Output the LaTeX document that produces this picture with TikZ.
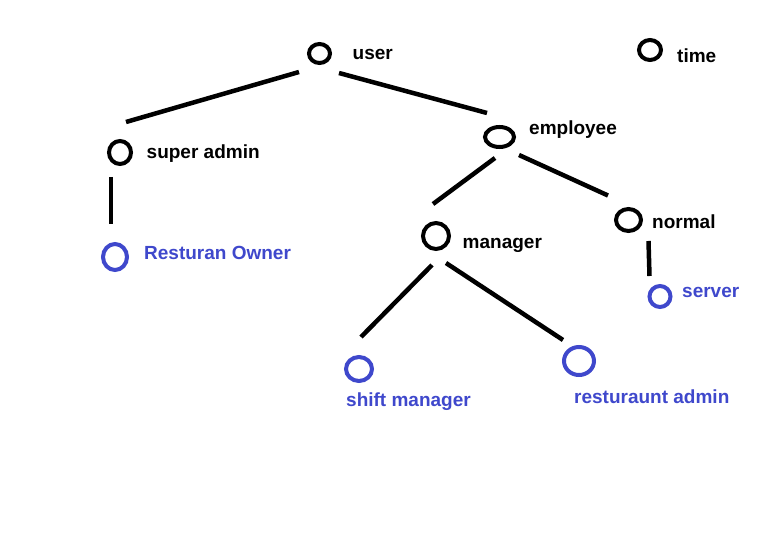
\documentclass[tikz,border=0pt]{standalone}
\usepackage{fontspec}
\setmainfont{Liberation Sans}
\usetikzlibrary{shapes.geometric}
\definecolor{paintblue}{RGB}{63,72,204}
\begin{document}
\begin{tikzpicture}[x=1pt,y=-1pt,
  ring/.style={ellipse,draw,line width=4pt,inner sep=0pt},
  bluering/.style={ring,draw=paintblue},
  lbl/.style={anchor=base west,inner sep=0pt,font=\fontsize{19}{22}\selectfont\bfseries},
  bluelbl/.style={lbl,text=paintblue},
  edge/.style={line width=4.5pt}]
\useasboundingbox[fill=white] (0,0) rectangle (780,559);
% rings
\node[ring,minimum width=21pt,minimum height=19pt] (user) at (319.5,53.5) {};
\node[ring,minimum width=22pt,minimum height=20pt] (time) at (650,50) {};
\node[ring,minimum width=22pt,minimum height=23pt] (super) at (120,152.5) {};
\node[ring,minimum width=29pt,minimum height=20pt] (employee) at (499.5,137) {};
\node[bluering,minimum width=24pt,minimum height=26pt] (owner) at (115,257) {};
\node[ring,minimum width=26pt,minimum height=26pt] (manager) at (436,236) {};
\node[ring,minimum width=25pt,minimum height=22pt] (normal) at (628.5,220) {};
\node[bluering,minimum width=21pt,minimum height=21pt] (server) at (660,296.5) {};
\node[bluering,minimum width=26pt,minimum height=24pt] (shift) at (359,369) {};
\node[bluering,minimum width=30pt,minimum height=28pt] (radmin) at (579,361) {};
% labels
\node[lbl] (userl) at (352.5,60) {user};
\node[lbl] (timel) at (677,62.5) {time};
\node[lbl] (superl) at (146.5,159) {super admin};
\node[lbl] (employeel) at (529,135) {employee};
\node[bluelbl] (ownerl) at (144,259) {Resturan Owner};
\node[lbl] (managerl) at (462.5,248) {manager};
\node[lbl] (normall) at (652,229) {normal};
\node[bluelbl] (serverl) at (682,298) {server};
\node[bluelbl] (shiftl) at (346,406) {shift manager};
\node[bluelbl] (radminl) at (574,403) {resturaunt admin};
% connector end points
\coordinate (u1) at (299,72);   \coordinate (s1) at (126,122);
\coordinate (u2) at (339,73);   \coordinate (e1) at (487,113);
\coordinate (s2) at (111,177);  \coordinate (o1) at (111,224);
\coordinate (e2) at (495,158);  \coordinate (m1) at (433,204);
\coordinate (e3) at (519,155);  \coordinate (n1) at (608,195.5);
\coordinate (m2) at (432,265);  \coordinate (sh1) at (361,337);
\coordinate (m3) at (446,263);  \coordinate (r1) at (563,340);
\coordinate (n2) at (648.5,241); \coordinate (sv1) at (649.5,276);
% connectors
\draw[edge] (u1) -- (s1);
\draw[edge] (u2) -- (e1);
\draw[edge] (s2) -- (o1);
\draw[edge] (e2) -- (m1);
\draw[edge] (e3) -- (n1);
\draw[edge] (m2) -- (sh1);
\draw[edge] (m3) -- (r1);
\draw[edge] (n2) -- (sv1);
\end{tikzpicture}
\end{document}
